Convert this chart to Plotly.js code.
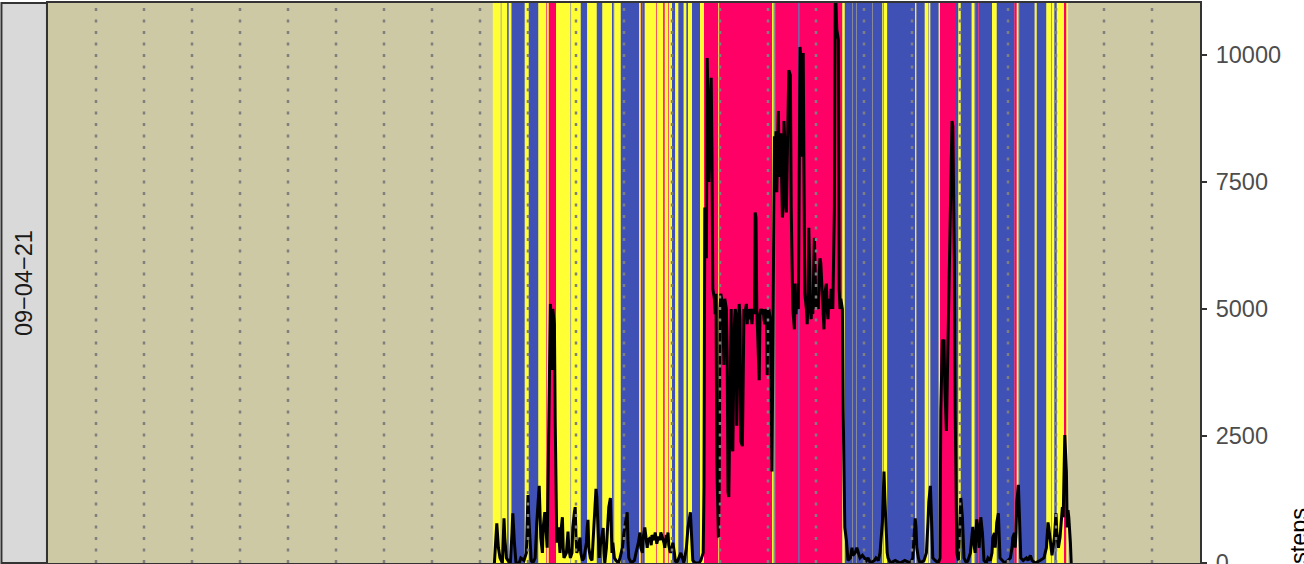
<!DOCTYPE html>
<html><head><meta charset="utf-8">
<script src="https://cdn.plot.ly/plotly-3.0.1.min.js"></script>
<style>html,body{margin:0;padding:0;background:#fff;} #chart{width:1304px;height:564px;}</style>
</head><body><div id="chart"></div>
<script>
const facetLabel = "09\u221204\u221221";
const yTitle = "steps";
const yTickVals = [0, 2500, 5000, 7500, 10000];
const yTickText = ["0", "2500", "5000", "7500", "10000"];
// hour gridlines (minutes since midnight)
const hourMarks = [60,120,180,240,300,360,420,480,540,600,660,720,780,840,900,960,1020,1080,1140,1200,1260,1320,1380];

// activity bands, minutes since midnight; Y=light, B=sedentary, P=active, G=other
const bandStart = [
 556,566,567,574,576,579,580,596,601,613,
 623,624,626,635,653,654,666,674,686,693,
 705,707,708,716,739,741,743,746,760,761,
 769,771,775,776,780,784,788,794,795,798,
 800,805,815,820,838,839,905,907,909,938,
 939,993,996,1005,1006,1010,1011,1030,1031,1043,
 1044,1045,1049,1084,1085,1086,1096,1100,1101,1103,
 1113,1114,1115,1135,1138,1141,1154,1155,1158,1159,
 1163,1165,1180,1186,1208,1211,1213,1214,1233,1234,
 1236,1248,1254,1255,1258,1261,1270,1273];
const bandEnd = [
 566,567,574,576,579,580,596,601,613,623,
 624,626,635,653,654,666,674,686,693,705,
 707,708,716,739,741,743,746,760,761,769,
 771,775,776,780,784,788,794,795,798,800,
 805,815,820,838,839,905,907,909,938,939,
 993,996,1005,1006,1010,1011,1030,1031,1043,1044,
 1045,1049,1084,1085,1086,1096,1100,1101,1103,1113,
 1114,1115,1135,1138,1141,1154,1155,1158,1159,1163,
 1165,1180,1186,1208,1211,1213,1214,1233,1234,1236,
 1248,1254,1255,1258,1261,1270,1273,1275];
const bandState = [
 "Y","G","Y","B","Y","G","B","Y","B","Y",
 "P","Y","P","Y","G","Y","B","Y","B","Y",
 "B","G","Y","B","Y","P","B","Y","P","Y",
 "P","Y","P","Y","B","Y","B","G","Y","B",
 "Y","B","Y","P","Y","P","Y","G","P","B",
 "P","Y","B","G","B","G","B","G","B","Y",
 "G","Y","B","Y","G","B","Y","G","Y","B",
 "G","Y","P","B","Y","B","G","Y","G","B",
 "P","B","Y","B","P","Y","G","B","G","Y",
 "B","Y","G","Y","B","Y","P","Y"];
const stateColors = {Y: "#FFFF33", B: "#3F51B5", P: "#FF0066", G: "#8E8E8E"};

// steps per time (minutes since midnight)
const lineTime = [
 558,560,561,563,565,568,570,571,573,575,578,580,581,583,585,589,591,595,598,599,
 600,601,603,604,606,609,611,614,615,616,618,619,621,623,624,625,626,628,629,630,
 631,633,634,635,636,638,639,640,641,643,644,645,648,649,650,651,653,655,656,658,
 659,660,661,663,665,666,668,670,673,674,675,676,678,680,681,683,684,685,686,688,
 689,690,693,694,695,696,698,700,701,703,704,705,706,708,710,713,715,718,720,723,
 724,725,726,729,733,735,738,740,741,743,744,746,748,749,750,753,754,755,758,759,
 760,761,763,765,766,768,770,771,773,774,775,776,778,780,781,783,784,786,789,791,
 793,795,798,800,803,804,805,806,809,814,816,819,820,821,823,824,825,826,828,829,
 830,831,833,834,835,836,838,839,840,841,843,844,845,846,848,849,850,851,853,854,
 855,856,858,859,860,861,863,864,865,866,868,869,870,871,873,874,875,876,878,879,
 880,881,883,884,885,886,888,889,890,891,893,894,895,896,898,899,900,901,903,904,
 905,906,908,909,910,911,913,914,915,916,918,919,920,921,923,924,925,926,928,929,
 930,931,933,934,935,936,938,939,940,941,943,944,945,946,948,949,950,951,953,954,
 955,956,958,959,960,961,963,964,965,966,968,969,970,971,973,974,975,976,978,979,
 980,981,983,984,985,986,988,989,990,991,993,994,995,996,998,999,1000,1003,1005,1006,
 1009,1011,1013,1015,1018,1020,1023,1025,1028,1033,1035,1038,1040,1043,1044,1045,1046,1048,1049,1050,
 1053,1059,1065,1071,1078,1081,1083,1084,1085,1086,1088,1090,1095,1098,1100,1101,1103,1104,1105,1106,
 1109,1113,1115,1116,1118,1119,1120,1121,1123,1124,1125,1126,1128,1129,1130,1131,1133,1134,1135,1136,
 1138,1139,1140,1141,1143,1144,1145,1148,1150,1153,1155,1156,1158,1159,1160,1161,1163,1164,1165,1166,
 1168,1169,1170,1173,1175,1178,1180,1181,1183,1184,1185,1186,1188,1189,1190,1193,1196,1200,1203,1205,
 1206,1208,1209,1210,1211,1213,1214,1215,1216,1219,1223,1225,1228,1230,1234,1240,1245,1248,1249,1250,
 1251,1253,1254,1255,1258,1259,1260,1261,1263,1265,1268,1269,1270,1271,1273,1274,1275,1276,1278,1279];
const lineSteps = [
 0,500,780,300,100,0,880,500,100,50,0,600,980,400,0,0,100,50,200,800,
 1340,900,300,50,0,100,800,1520,1000,500,200,700,1000,600,300,1500,3000,5100,4800,3800,
 5000,4700,2800,1200,400,700,300,200,600,900,300,100,200,500,620,300,100,200,700,1000,
 1100,500,200,300,500,200,50,100,400,700,850,300,100,50,300,900,1200,1460,1300,500,
 100,300,600,690,200,0,300,800,1100,1280,600,200,400,100,50,0,100,300,600,900,
 1000,400,100,0,50,200,400,600,300,200,500,700,400,300,450,500,350,550,450,600,
 500,380,520,450,600,500,400,300,550,450,600,350,200,300,400,200,50,0,100,200,
 100,0,300,700,1000,600,200,50,0,0,50,200,1500,7000,6000,9940,9000,7500,9100,9550,
 8000,5400,5200,4900,5300,2000,500,1500,5000,5300,5100,4200,3900,5200,5000,4000,1400,1300,4800,5000,
 2300,2200,4700,5000,4900,2700,4600,5100,4800,2400,2300,4800,5000,4900,5100,4700,5000,4800,5000,4900,
 4700,5000,4900,6900,6800,5000,3700,3600,4900,5000,4900,5000,4800,4700,5000,3700,4900,5000,4800,2000,
 1800,4000,8400,7800,8500,7300,8900,7600,8400,8460,6800,7000,8700,8300,6900,8600,8800,9700,9600,7000,
 5300,5000,4600,5500,4900,5300,5000,9600,10160,10000,8000,10040,7900,5300,5000,4700,5100,6600,5000,4800,
 5200,4900,6400,5300,5000,5200,5000,5700,6000,5900,5200,4900,4600,5300,5500,5000,4800,5200,5000,5400,
 5300,5000,7000,11000,11000,10500,10300,5400,5000,5200,5000,3000,1380,700,450,200,50,100,300,150,
 200,300,200,100,150,100,50,100,0,50,100,50,200,800,1500,1800,1300,500,200,100,
 0,50,0,50,0,100,500,880,700,300,100,0,50,200,800,1200,1520,1000,300,100,
 50,0,100,3000,4400,4300,4400,3500,2600,3500,4500,5800,7000,8200,8700,8600,6000,3000,800,200,
 50,400,1000,1280,900,300,100,0,50,200,500,710,300,200,600,860,500,300,700,900,
 600,200,50,0,100,50,200,500,590,300,500,800,980,500,100,50,0,50,100,300,
 500,590,300,600,1200,1540,900,300,100,50,100,50,150,50,0,50,100,300,600,800,
 700,400,300,150,500,800,980,600,300,500,1100,900,1500,2520,1800,700,1040,900,400,0];

const shapes = [];
for (let i = 0; i < bandStart.length; i++) {
  shapes.push({type: "rect", xref: "x", yref: "paper", x0: bandStart[i], x1: bandEnd[i], y0: 0, y1: 1,
    fillcolor: stateColors[bandState[i]], line: {width: 0}, layer: "below"});
}
hourMarks.forEach(h => shapes.push({type: "line", xref: "x", yref: "paper", x0: h, x1: h, y0: 0, y1: 1,
  line: {color: "#7F7F7F", width: 2.5, dash: "3px,8.5px"}, layer: "above"}));
// facet strip
shapes.push({type: "rect", xref: "paper", yref: "paper", x0: -0.0404, x1: -0.0009, y0: 0, y1: 1,
  fillcolor: "#D9D9D9", line: {color: "#333333", width: 2}, layer: "above"});

const data = [{type: "scatter", mode: "lines", x: lineTime, y: lineSteps,
  line: {color: "#000000", width: 3}, hoverinfo: "skip"}];

const layout = {
  width: 1304, height: 564,
  margin: {l: 48, r: 104, t: 3, b: 1, pad: 0},
  paper_bgcolor: "#FFFFFF", plot_bgcolor: "#CDC9A5",
  showlegend: false,
  xaxis: {range: [0, 1440], showgrid: false, zeroline: false, showticklabels: false, ticks: "",
    showline: true, mirror: true, linecolor: "#333333", linewidth: 2, fixedrange: true},
  yaxis: {range: [0, 11024], side: "right", tickmode: "array", tickvals: yTickVals, ticktext: yTickText,
    ticks: "outside", ticklen: 5, tickwidth: 2, tickcolor: "#333333", ticklabeloverflow: "allow",
    ticklabelstandoff: 4,
    tickfont: {family: "Liberation Sans, Arial, sans-serif", size: 23.5, color: "#4D4D4D"},
    showgrid: false, zeroline: false, showline: true, mirror: true, linecolor: "#333333", linewidth: 2, fixedrange: true},
  shapes: shapes,
  annotations: [
    {xref: "paper", yref: "paper", x: -0.0208, y: 0.5, xanchor: "center", yanchor: "middle",
     text: facetLabel, textangle: -90, showarrow: false,
     font: {family: "Liberation Sans, Arial, sans-serif", size: 23.5, color: "#1A1A1A"}},
    {xref: "paper", yref: "paper", x: 1.0729, y: 0.048, xanchor: "left", yanchor: "middle",
     text: yTitle, textangle: -90, showarrow: false,
     font: {family: "Liberation Sans, Arial, sans-serif", size: 23.5, color: "#000000"}}
  ]
};
Plotly.newPlot("chart", data, layout, {displayModeBar: false, staticPlot: true});
</script></body></html>
